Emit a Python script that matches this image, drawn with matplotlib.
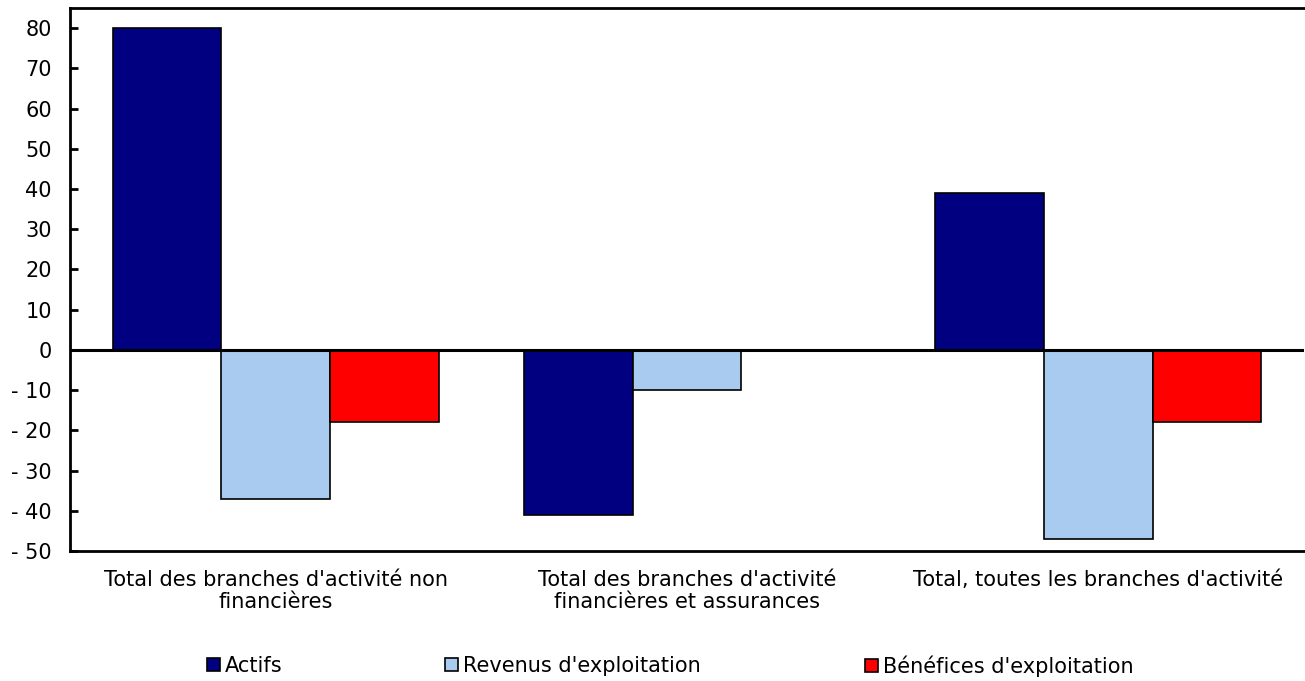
import numpy as np
import matplotlib.pyplot as plt
from matplotlib.ticker import FuncFormatter

plt.rcParams["font.family"] = ["DejaVu Sans"]

categories = ["Total des branches d'activité non\nfinancières",
              "Total des branches d'activité\nfinancières et assurances",
              "Total, toutes les branches d'activité"]
series = ["Actifs", "Revenus d'exploitation", "Bénéfices d'exploitation"]
actifs = [80, -41, 39]
revenus = [-37, -10, -47]
benefices = [-18, 0, -18]
colors = ["#000080", "#A9CBEF", "#FF0000"]
yticks = list(range(-50, 81, 10))

fig = plt.figure(figsize=(13.05, 6.81), dpi=100)
ax = fig.add_axes([70 / 1305, 1 - 551 / 681, 1234 / 1305, 543 / 681])

x = np.arange(len(categories))
w = 0.264
bars = []
for i, vals in enumerate([actifs, revenus, benefices]):
    b = ax.bar(x + (i - 1) * w, vals, w, color=colors[i], edgecolor="black",
               linewidth=1.2, label=series[i])
    bars.append(b)

ax.axhline(0, color="black", linewidth=2.2)
ax.set_xlim(-0.5, 2.5)
ax.set_ylim(-50, 85)
ax.set_yticks(yticks)
ax.yaxis.set_major_formatter(FuncFormatter(
    lambda v, p: "- %d" % abs(v) if v < 0 else "%d" % v))
ax.tick_params(axis="y", direction="in", length=6, width=2, pad=13, labelsize=15)
ax.set_xticks(x)
ax.set_xticklabels(categories, fontsize=15, linespacing=1.12)
ax.tick_params(axis="x", length=0, pad=14)

for s in ["left", "top", "bottom"]:
    ax.spines[s].set_linewidth(2)
ax.spines["right"].set_visible(False)

# legend entries sit at uneven positions in the original
leg_x = [207, 445, 865]
for i in range(3):
    fig.legend(handles=[bars[i]], labels=[series[i]], loc="center left",
               bbox_to_anchor=(leg_x[i] / 1305, 1 - 666 / 681), frameon=False,
               fontsize=15, handlelength=0.62, handleheight=0.62,
               handletextpad=0.25, borderpad=0, borderaxespad=0)

fig.savefig("out.png", dpi=100)
